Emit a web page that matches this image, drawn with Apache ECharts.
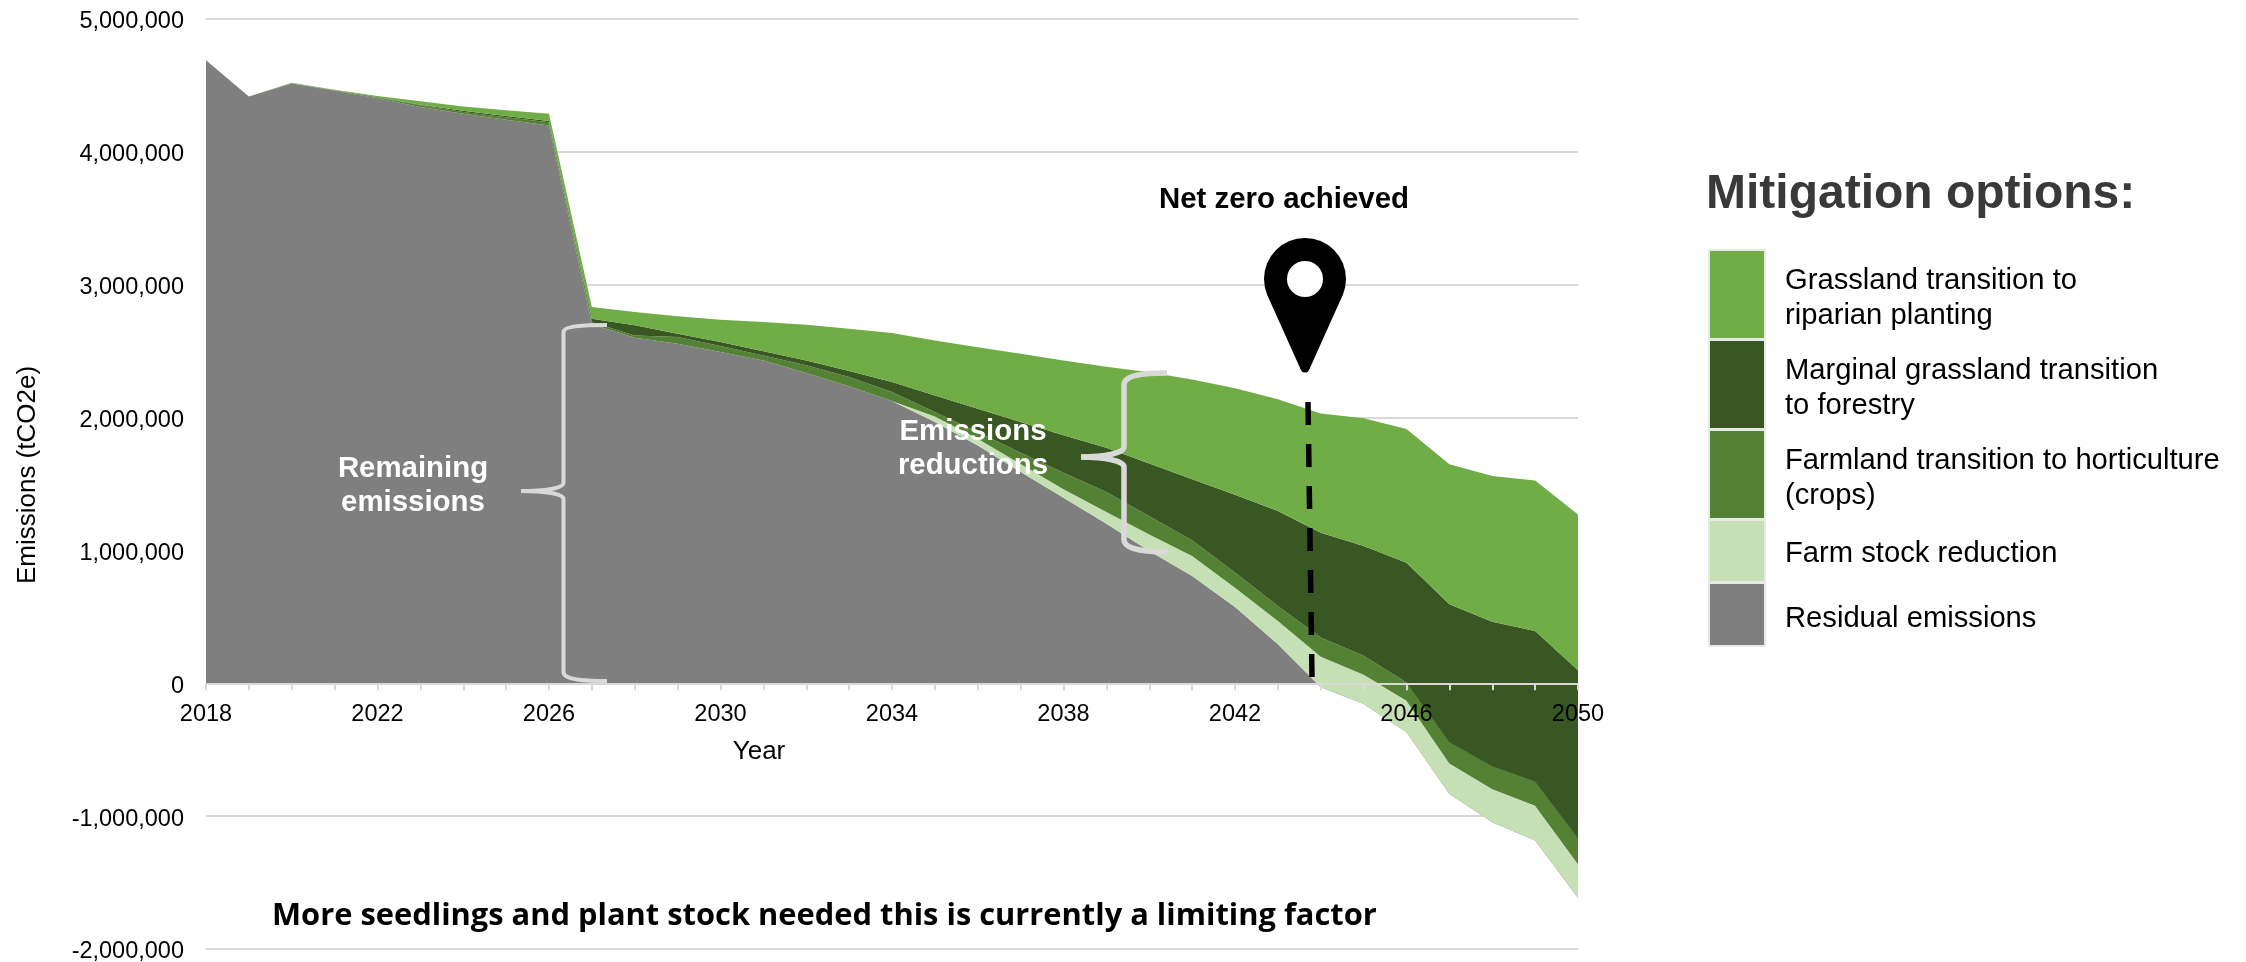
<!DOCTYPE html>
<html><head><meta charset="utf-8">
<script src="https://cdn.jsdelivr.net/npm/echarts@6/dist/echarts.min.js"></script>
<style>html,body{margin:0;padding:0;background:#fff}#c{width:2246px;height:962px}</style>
</head><body><div id="c"></div>
<script>
const years = [2018,2019,2020,2021,2022,2023,2024,2025,2026,2027,2028,2029,2030,2031,2032,2033,2034,2035,2036,2037,2038,2039,2040,2041,2042,2043,2044,2045,2046,2047,2048,2049,2050];
const residual = [4690000,4417000,4515000,4460000,4404000,4337000,4287000,4242000,4199000,2700000,2600000,2556000,2493000,2430000,2335000,2235000,2124000,1966000,1790000,1590000,1397000,1200000,996000,808000,575000,293000,-30000,-155000,-369000,-833000,-1046000,-1184000,-1617000];
const stockReduction = [0,0,0,0,0,0,0,0,0,0,0,0,0,0,0,0,0,43000,51000,60000,63000,90000,124000,150000,145000,176000,230000,220000,239000,231000,251000,264000,257000];
const horticulture = [0,0,1000,2000,6000,13000,13000,18000,23000,18000,18000,50000,45000,38000,58000,70000,68000,33000,50000,85000,125000,150000,137000,118000,113000,113000,144000,143000,135000,158000,170000,180000,194000];
const forestry = [0,0,1000,2000,2000,5000,10000,10000,10000,26000,76000,25000,30000,32000,37000,45000,75000,125000,176000,231000,281000,333000,398000,459000,587000,715000,790000,825000,903000,1038000,1089000,1134000,1264000];
const riparian = [0,0,3000,4000,8000,25000,32000,44000,55000,88000,100000,131000,168000,219000,269000,319000,369000,414000,463000,514000,564000,610000,687000,752000,800000,840000,896000,961000,1006000,1054000,1096000,1133000,1172000];

const seriesNames = ['Residual emissions','Farm stock reduction','Farmland transition to horticulture (crops)','Marginal grassland transition to forestry','Grassland transition to riparian planting'];
const seriesColors = ['#7f7f7f','#c5e0b4','#548235','#385723','#70ad47'];
const legendLabels = [['Grassland transition to','riparian planting'],['Marginal grassland transition','to forestry'],['Farmland transition to horticulture','(crops)'],['Farm stock reduction'],['Residual emissions']];
const legendColors = ['#70ad47','#385723','#548235','#c5e0b4','#7f7f7f'];
const legendBoxes = [[251,338],[341,428],[431,518],[521,581],[584,645]];
const legendTextY = [[279,314],[369,404],[459,494],[552],[617]];

const F = 'Liberation Sans, Arial, sans-serif';
const values = [residual,stockReduction,horticulture,forestry,riparian];
const series = values.map((d,i)=>({
  name:seriesNames[i], type:'line', stack:'total', stackStrategy:'all', data:d,
  showSymbol:false, symbol:'none', silent:true,
  lineStyle:{width:0}, itemStyle:{color:seriesColors[i]},
  areaStyle:{color:seriesColors[i],opacity:1}
}));

const G = [];
const txt=(x,y,t,size,weight,fill,align,fam)=>G.push({type:'text',z:100,x,y:y+2,style:{text:t,font:`${weight} ${size}px ${fam||F}`,fill,align:align||'left',verticalAlign:'middle'}});
const line=(x1,y1,x2,y2,w)=>G.push({type:'line',z:100,shape:{x1,y1,x2,y2},style:{stroke:'#d9d9d9',lineWidth:w}});
const curve=(x1,y1,cpx1,cpy1,cpx2,cpy2,x2,y2,w)=>G.push({type:'bezierCurve',z:100,shape:{x1,y1,cpx1,cpy1,cpx2,cpy2,x2,y2},style:{stroke:'#d9d9d9',fill:null,lineWidth:w}});
// pin
G.push({type:'circle',z:100,shape:{cx:1305,cy:279,r:41},style:{fill:'#000'}});
G.push({type:'polygon',z:100,shape:{points:[[1267.5,295.5],[1342.5,295.5],[1309.5,369],[1300.5,369]]},style:{fill:'#000'}});
G.push({type:'circle',z:100,shape:{cx:1305,cy:368,r:4.5},style:{fill:'#000'}});
G.push({type:'circle',z:101,shape:{cx:1305,cy:279,r:18},style:{fill:'#fff'}});
// dashed net-zero line
G.push({type:'line',z:100,shape:{x1:1308,y1:402,x2:1312,y2:677},style:{stroke:'#000',lineWidth:5.5,lineDash:[23,19]}});
// left brace
curve(607,325,585,325,563.5,326,563.5,332,4); line(563.5,332,563.5,483,4);
curve(563.5,483,563.5,488,545,491,521,491,4); curve(521,491,545,491,563.5,494,563.5,499,4);
line(563.5,499,563.5,672,4); curve(563.5,672,563.5,680,585,681,607,681,4);
// right brace
curve(1167,373,1145,373,1124,375,1124,385,5.5); line(1124,385,1124,447,5.5);
curve(1124,447,1124,453,1105,457,1081,457,5.5); curve(1081,457,1105,457,1124,461,1124,467,5.5);
line(1124,467,1124,540,5.5); curve(1124,540,1124,549,1145,552,1167,552,5.5);
// annotations
txt(1284,198,'Net zero achieved',29.4,'bold','#000','center');
txt(413,467,'Remaining',29.4,'bold','#fff','center');
txt(413,501,'emissions',29.4,'bold','#fff','center');
txt(973,430,'Emissions',29.4,'bold','#fff','center');
txt(973,464,'reductions',29.4,'bold','#fff','center');
txt(272,914,'More seedlings and plant stock needed this is currently a limiting factor',30.85,'bold','#000','left','Open Sans');
// legend
txt(1706,193,'Mitigation options:',48,'bold','#3b3838');
G.push({type:'rect',z:90,shape:{x:1708,y:249,width:58,height:398},style:{fill:'#e8e8e8'}});
legendBoxes.forEach((b,i)=>{
  G.push({type:'rect',z:91,shape:{x:1710,y:b[0],width:54,height:b[1]-b[0]},style:{fill:legendColors[i]}});
  legendLabels[i].forEach((t,j)=>txt(1785,legendTextY[i][j],t,29.2,'normal','#000'));
});

const chart = echarts.init(document.getElementById('c'),null,{renderer:'canvas'});
chart.setOption({
  animation:false,
  backgroundColor:'#fff',
  grid:{left:206,top:19,width:1372,height:930,containLabel:false,outerBoundsMode:'none'},
  xAxis:{type:'category',data:years,boundaryGap:false,z:5,
    name:'Year',nameLocation:'middle',nameGap:-210,nameMoveOverlap:false,
    nameTextStyle:{fontFamily:F,fontSize:26,color:'#000',padding:[0,266,0,0]},
    axisLine:{onZero:true,lineStyle:{color:'#d9d9d9',width:2}},
    axisTick:{show:true,interval:0,length:7,lineStyle:{color:'#d9d9d9',width:2}},
    axisLabel:{interval:3,margin:-246,fontFamily:F,fontSize:23.5,color:'#000',hideOverlap:false},
    splitLine:{show:false}},
  yAxis:{type:'value',min:-2000000,max:5000000,interval:1000000,
    name:'Emissions (tCO2e)',nameLocation:'middle',nameGap:165,nameMoveOverlap:false,
    nameTextStyle:{fontFamily:F,fontSize:26,color:'#000',padding:[0,0,0,18]},
    axisLine:{show:false},axisTick:{show:false},
    axisLabel:{margin:22,verticalAlign:'top',lineHeight:6,fontFamily:F,fontSize:23.5,color:'#000'},
    splitLine:{lineStyle:{color:'#d9d9d9',width:2}}},
  series,
  graphic:{elements:G}
});
</script></body></html>
